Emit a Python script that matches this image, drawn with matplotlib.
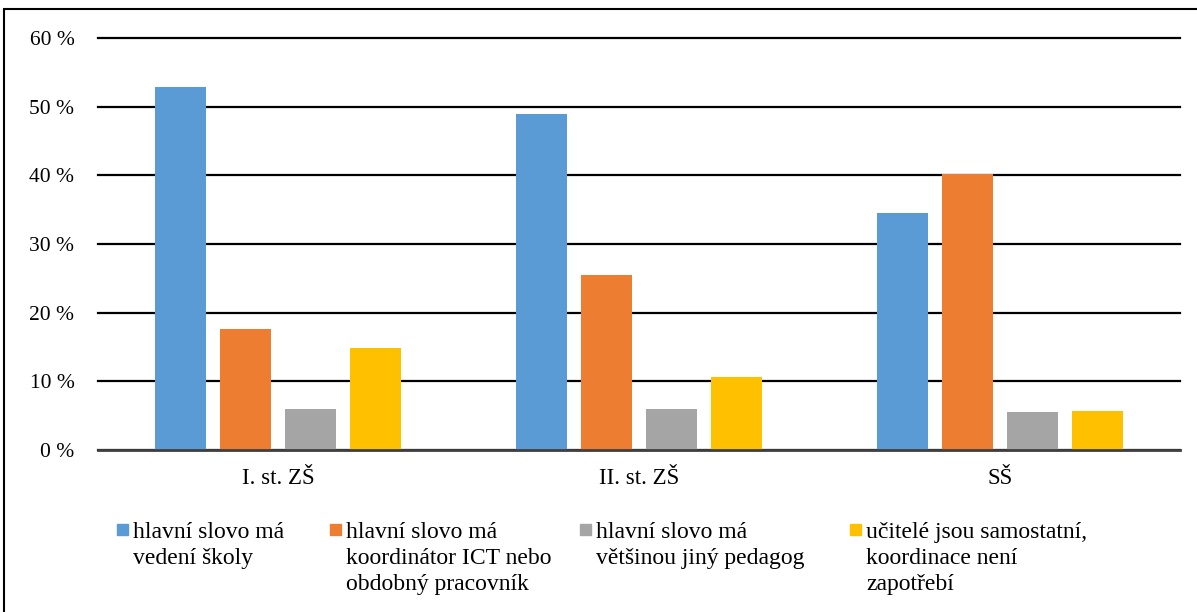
import matplotlib
matplotlib.use("Agg")
import matplotlib.pyplot as plt
from matplotlib.patches import Rectangle
import numpy as np

categories = ["I. st. ZŠ", "II. st. ZŠ", "SŠ"]
series_labels = [
    "hlavní slovo má\nvedení školy",
    "hlavní slovo má\nkoordinátor ICT nebo\nobdobný pracovník",
    "hlavní slovo má\nvětšinou jiný pedagog",
    "učitelé jsou samostatní,\nkoordinace není\nzapotřebí",
]
values = [
    [52.8, 48.9, 34.5],
    [17.6, 25.5, 40.2],
    [5.9, 5.9, 5.6],
    [14.8, 10.7, 5.7],
]
colors = ["#5B9BD5", "#ED7D31", "#A5A5A5", "#FFC000"]
yticks = [0, 10, 20, 30, 40, 50, 60]
ytick_labels = ["0 %", "10 %", "20 %", "30 %", "40 %", "50 %", "60 %"]

plt.rcParams['font.family'] = ['Liberation Serif', 'DejaVu Serif']

W, H = 1197, 612
fig = plt.figure(figsize=(W / 100, H / 100), dpi=100)
ax = fig.add_axes([98 / W, 1 - 450 / H, (1180 - 98) / W, (450 - 38) / H])

x = np.arange(len(categories))
bw = 51 / 361
pitch = 65 / 361
for i, (vals, c) in enumerate(zip(values, colors)):
    offs = (i - 1.5) * pitch
    ax.bar(x + offs, vals, width=bw, color=c, zorder=3, label=series_labels[i])

ax.set_xlim(-0.5, 2.5)
ax.set_ylim(0, 60)
ax.set_yticks(yticks)
ax.set_yticklabels(ytick_labels, fontsize=15.5)
ax.set_xticks(x)
ax.set_xticklabels(categories, fontsize=16.5)
ax.tick_params(axis='y', length=0, pad=17)
ax.tick_params(axis='x', length=0, pad=13)
ax.grid(axis='y', color='black', linewidth=1.6, zorder=0)
for gl in ax.get_ygridlines():
    gl.set_clip_on(False)
for s in ['top', 'right', 'left']:
    ax.spines[s].set_visible(False)
ax.spines['bottom'].set_color('#404040')
ax.spines['bottom'].set_linewidth(2.0)
ax.spines['bottom'].set_zorder(4)

# Legend drawn manually
leg_x = [117, 330, 580, 850]
for lx, lab, c in zip(leg_x, series_labels, colors):
    fig.patches.append(Rectangle((lx / W, 1 - 535 / H), 11 / W, 11 / H,
                                 transform=fig.transFigure, color=c, figure=fig))
    fig.text((lx + 16) / W, 1 - 522 / H, lab, fontsize=17, va='top', ha='left',
             linespacing=1.3)

# Outer frame
fig.patches.append(Rectangle((4 / W, -0.05), 1.2, (1 - 9 / H) + 0.05,
                             transform=fig.transFigure, fill=False,
                             edgecolor='black', linewidth=1.5, figure=fig))

fig.savefig("out.png", dpi=100)
